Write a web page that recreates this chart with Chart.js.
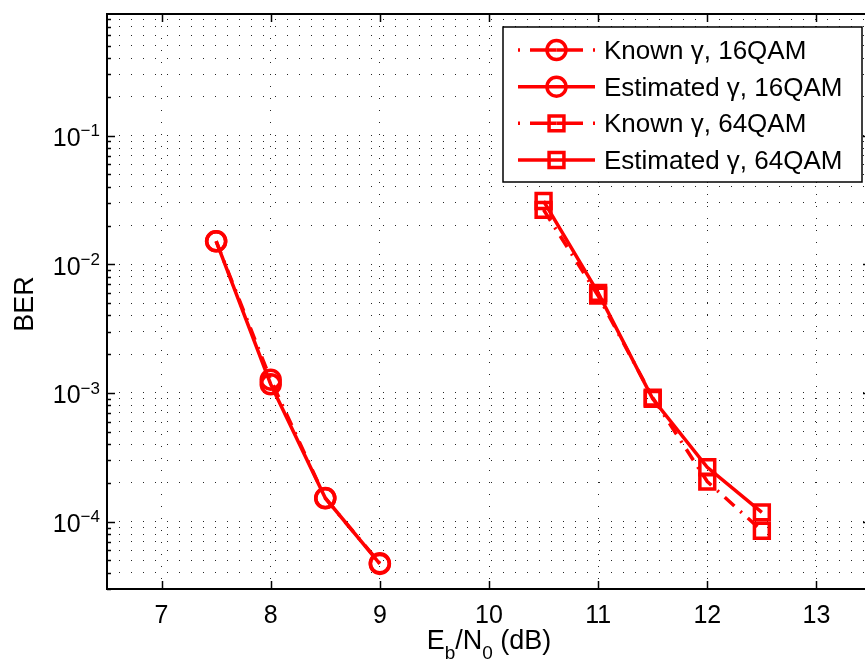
<!DOCTYPE html>
<html>
<head>
<meta charset="utf-8">
<script src="https://cdn.jsdelivr.net/npm/chart.js@4.4.0/dist/chart.umd.min.js"></script>
<style>
html, body { margin: 0; padding: 0; background: #fff; overflow: hidden; }
#wrap { width: 865px; height: 660px; overflow: hidden; }
</style>
</head>
<body>
<div id="wrap"><canvas id="berChart" width="885" height="660"></canvas></div>
<script>
// BER curves, 16QAM and 64QAM, known vs estimated gamma
var ebn0_16 = [7.5, 8, 8.5, 9];
var ber16Known = [1.51e-2, 1.27e-3, 1.52e-4, 4.75e-5];
var ber16Est = [1.51e-2, 1.17e-3, 1.53e-4, 4.7e-5];

var ebn0_64 = [10.5, 11, 11.5, 12, 12.5];
var ber64Known = [2.65e-2, 5.7e-3, 9.2e-4, 2.05e-4, 8.5e-5];
var ber64Est = [3.1e-2, 6.0e-3, 9.0e-4, 2.65e-4, 1.18e-4];

var xTicks = [7, 8, 9, 10, 11, 12, 13];
var yDecades = [-4, -3, -2, -1];
var legendLabels = ['Known \u03b3, 16QAM', 'Estimated \u03b3, 16QAM', 'Known \u03b3, 64QAM', 'Estimated \u03b3, 64QAM'];

var X_MIN = 6.5, X_MAX = 13.5;
var Y_MIN = 3e-5, Y_MAX = 0.88;
var FONT = "'Liberation Sans', Arial, Helvetica, sans-serif";
var RED = 'rgb(255,0,0)';
var DASHDOT = [13, 8, 2, 8];

// every 1..9 x 10^e inside the range, for the dotted log grid
var yGrid = [];
for (var e = -5; e <= 0; e++) {
    for (var m = 1; m <= 9; m++) {
        var v = m * Math.pow(10, e);
        if (v >= Y_MIN * 0.999 && v <= Y_MAX) yGrid.push(v);
    }
}

function pts(xs, ys) {
    return xs.map(function (x, i) { return { x: x, y: ys[i] }; });
}

function series(label, xs, ys, marker, dashed) {
    return {
        label: label,
        data: pts(xs, ys),
        borderColor: RED,
        borderWidth: 3.5,
        borderDash: dashed ? DASHDOT : [],
        pointStyle: marker,
        pointRadius: marker === 'rect' ? 10.5 : 9.5,
        pointBorderWidth: 3.5,
        pointBorderColor: RED,
        pointBackgroundColor: 'rgba(0,0,0,0)',
        showLine: true,
        tension: 0,
        fill: false
    };
}

function runText(ctx, parts, x, y) {
    var cx = x;
    parts.forEach(function (p) {
        ctx.font = p.size + 'px ' + FONT;
        ctx.fillText(p.t, cx, y + (p.dy || 0));
        cx += ctx.measureText(p.t).width;
    });
}

function runWidth(ctx, parts) {
    var w = 0;
    parts.forEach(function (p) {
        ctx.font = p.size + 'px ' + FONT;
        w += ctx.measureText(p.t).width;
    });
    return w;
}

// axes box, inward ticks, labels and legend drawn on top
var matlabAxes = {
    id: 'matlabAxes',
    afterDraw: function (chart) {
        var ctx = chart.ctx, a = chart.chartArea;
        var xs = chart.scales.x, ys = chart.scales.y;
        ctx.save();
        ctx.setLineDash([]);
        ctx.strokeStyle = '#000';
        ctx.fillStyle = '#000';

        function seg(x1, y1, x2, y2) {
            ctx.beginPath(); ctx.moveTo(x1, y1); ctx.lineTo(x2, y2); ctx.stroke();
        }

        ctx.lineWidth = 1.5;
        xTicks.forEach(function (t) {
            var px = Math.round(xs.getPixelForValue(t)) + 0.5;
            seg(px, a.bottom, px, a.bottom - 8);
            seg(px, a.top, px, a.top + 8);
        });
        yGrid.forEach(function (v) {
            var py = Math.round(ys.getPixelForValue(v)) + 0.5;
            var major = Math.abs(Math.log10(v) - Math.round(Math.log10(v))) < 1e-9;
            var len = major ? 8 : 4;
            seg(a.left, py, a.left + len, py);
            seg(a.right, py, a.right - len, py);
        });

        ctx.lineWidth = 2;
        ctx.strokeRect(a.left, a.top, a.right - a.left, a.bottom - a.top);

        // x tick labels
        ctx.textAlign = 'center';
        ctx.textBaseline = 'alphabetic';
        ctx.font = '25px ' + FONT;
        xTicks.forEach(function (t) {
            ctx.fillText(String(t), xs.getPixelForValue(t), 622.5);
        });

        // y tick labels 10^k
        ctx.textAlign = 'left';
        yDecades.forEach(function (k) {
            var py = ys.getPixelForValue(Math.pow(10, k));
            var parts = [{ t: '10', size: 25, dy: 10.5 }, { t: '\u2212' + (-k), size: 17, dy: 0.7 }];
            var w = runWidth(ctx, parts);
            runText(ctx, parts, 100 - w, py);
        });

        // axis titles
        var xt = [
            { t: 'E', size: 27 }, { t: 'b', size: 19, dy: 10 },
            { t: '/N', size: 27 }, { t: '0', size: 19, dy: 10 },
            { t: ' (dB)', size: 27 }
        ];
        var xw = runWidth(ctx, xt);
        runText(ctx, xt, (a.left + a.right) / 2 - xw / 2, 648.5);

        ctx.save();
        ctx.translate(33, 304);
        ctx.rotate(-Math.PI / 2);
        ctx.textAlign = 'center';
        ctx.font = '27px ' + FONT;
        ctx.fillText('BER', 0, 0);
        ctx.restore();

        // legend
        var bx = 503, by = 27, bw = 359, bh = 155;
        ctx.fillStyle = '#fff';
        ctx.fillRect(bx, by, bw, bh);
        ctx.lineWidth = 1.5;
        ctx.strokeStyle = '#000';
        ctx.strokeRect(bx, by, bw, bh);

        chart.data.datasets.forEach(function (ds, i) {
            var ry = 50 + i * 36.67;
            var x1 = 518, x2 = 595, mx = 556.5;
            ctx.strokeStyle = RED;
            ctx.lineWidth = 3.5;
            if (ds.borderDash.length) {
                ctx.setLineDash([2, 10, 40]);
                seg(x1, ry, mx, ry);
                seg(x2, ry, mx, ry);
                ctx.setLineDash([]);
            } else {
                seg(x1, ry, x2, ry);
            }
            ctx.fillStyle = 'rgba(0,0,0,0)';
            Chart.helpers.drawPoint(ctx, {
                pointStyle: ds.pointStyle, radius: ds.pointRadius,
                borderWidth: 3.5, rotation: 0
            }, mx, ry);
            ctx.fillStyle = '#000';
            ctx.font = '26px ' + FONT;
            ctx.textAlign = 'left';
            ctx.fillText(legendLabels[i], 604, ry + 9);
        });
        ctx.restore();
    }
};

var ctx = document.getElementById('berChart').getContext('2d');
var berChart = new Chart(ctx, {
    type: 'scatter',
    data: {
        datasets: [
            series(legendLabels[0], ebn0_16, ber16Known, 'circle', true),
            series(legendLabels[1], ebn0_16, ber16Est, 'circle', false),
            series(legendLabels[2], ebn0_64, ber64Known, 'rect', true),
            series(legendLabels[3], ebn0_64, ber64Est, 'rect', false)
        ]
    },
    options: {
        responsive: false,
        animation: false,
        devicePixelRatio: 1,
        layout: { padding: { left: 107, top: 13, right: 10, bottom: 71 } },
        plugins: { legend: { display: false }, tooltip: { enabled: false } },
        scales: {
            x: {
                type: 'linear',
                min: X_MIN,
                max: X_MAX,
                afterBuildTicks: function (s) { s.ticks = xTicks.map(function (v) { return { value: v }; }); },
                ticks: { display: false },
                grid: { color: 'rgba(0,0,0,0.85)', lineWidth: 1, drawTicks: false },
                border: { display: false, dash: [1, 11] }
            },
            y: {
                type: 'logarithmic',
                min: Y_MIN,
                max: Y_MAX,
                afterBuildTicks: function (s) { s.ticks = yGrid.map(function (v) { return { value: v }; }); },
                ticks: { display: false },
                grid: { color: 'rgba(0,0,0,0.85)', lineWidth: 1, drawTicks: false },
                border: { display: false, dash: [1, 11] }
            }
        }
    },
    plugins: [matlabAxes]
});
</script>
</body>
</html>
